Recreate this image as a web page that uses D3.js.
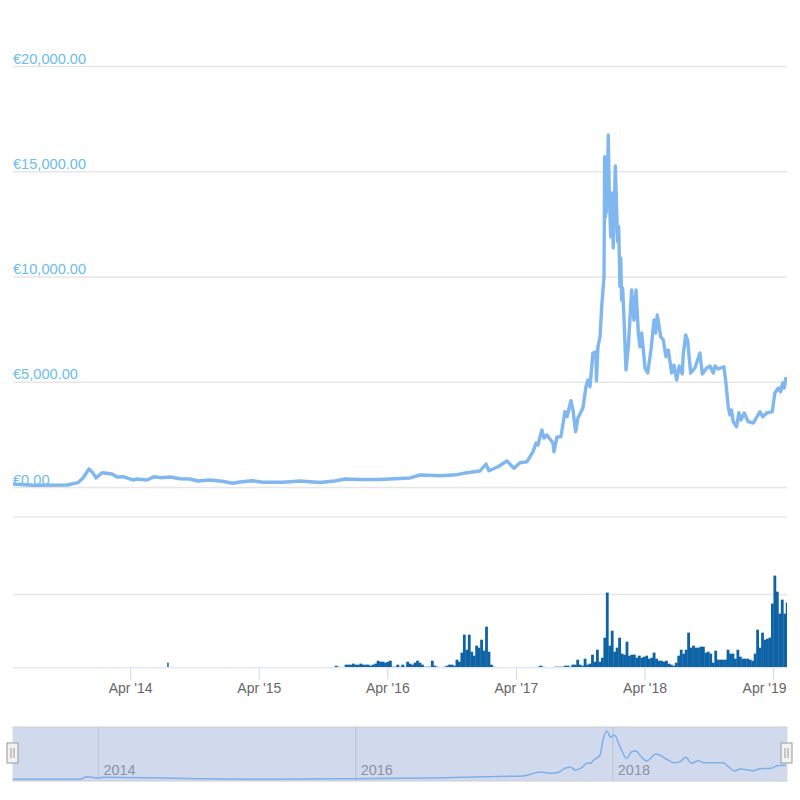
<!DOCTYPE html>
<meta charset="utf-8">
<style>
body { margin: 0; background: #fff; font-family: "Liberation Sans", Arial, sans-serif; }
.grid line { stroke: #e6e6e6; stroke-width: 1.4px; }
.grid .domain, .timeaxis .domain, .navaxis .domain { display: none; }
.price text { fill: #6cbcec; font-size: 14.6px; }
.timeaxis line { stroke: #ccd6eb; }
.timeaxis text { fill: #666; font-size: 14px; }
.navaxis line { stroke: #e1e6ea; stroke-width: 1.4px; }
.navaxis text { fill: #999; font-size: 14.4px; }
</style>
<body>
<script src="https://d3js.org/d3.v7.min.js"></script>
<script>
// price series, decimal year and euros
var priceYears = [2013.339,2013.495,2013.759,2013.844,2013.883,2013.93,2013.961,2013.984,2014.031,2014.109,2014.148,2014.194,2014.272,2014.303,2014.381,2014.435,2014.482,2014.56,2014.638,2014.715,2014.778,2014.871,2014.964,2015.05,2015.104,2015.198,2015.283,2015.439,2015.571,2015.726,2015.843,2015.921,2016.037,2016.193,2016.426,2016.504,2016.62,2016.659,2016.792,2016.869,2016.97,2017.017,2017.04,2017.11,2017.18,2017.235,2017.281,2017.336,2017.383,2017.406,2017.421,2017.452,2017.468,2017.491,2017.538,2017.546,2017.569,2017.6,2017.631,2017.647,2017.678,2017.694,2017.714,2017.732,2017.771,2017.795,2017.81,2017.826,2017.849,2017.872,2017.876,2017.888,2017.904,2017.917,2017.935,2017.94,2017.945,2017.948,2017.952,2017.956,2017.962,2017.968,2017.976,2017.987,2017.99,2017.995,2018.007,2018.023,2018.034,2018.041,2018.049,2018.059,2018.065,2018.072,2018.08,2018.09,2018.106,2018.124,2018.15,2018.168,2018.184,2018.202,2018.215,2018.228,2018.254,2018.275,2018.3,2018.324,2018.337,2018.349,2018.376,2018.396,2018.417,2018.435,2018.461,2018.479,2018.5,2018.52,2018.543,2018.551,2018.57,2018.585,2018.609,2018.642,2018.681,2018.699,2018.733,2018.759,2018.784,2018.798,2018.823,2018.868,2018.883,2018.901,2018.914,2018.927,2018.94,2018.966,2018.984,2019.0,2019.025,2019.056,2019.096,2019.148,2019.169,2019.2,2019.243,2019.264,2019.29,2019.309,2019.324,2019.337,2019.35];
var priceValues = [143,80,95,204,428,855,665,428,679,618,475,489,333,380,333,489,442,475,394,380,285,333,271,176,238,299,223,223,285,214,285,380,356,356,428,570,546,537,584,679,760,1093,774,964,1235,888,1154,1202,1677,2090,1995,2708,2328,2470,2090,1677,2375,2389,3577,3339,4099,3657,2627,3278,3752,4764,5082,4764,6365,6427,5049,6664,7139,8564,9989,15689,12800,15600,13015,15675,14000,16720,13965,11889,13000,13965,11352,15248,13015,11652,12364,9514,10878,8883,9453,8089,5558,6664,9358,7933,9358,7315,6664,7315,5653,5415,6508,7933,7315,8170,7139,6983,6189,6508,5415,5795,5083,5748,5368,6270,7220,6983,5415,5653,6365,5368,5653,5748,5415,5748,5605,5714,4940,3814,3420,3658,3102,2864,3529,3183,3515,3102,3040,3577,3339,3515,3577,4465,4703,4527,4940,4703,5225];

// navigator series is a coarser version of the price
var navYears = [2013.339,2013.86,2013.914,2013.992,2014.039,2014.404,2014.793,2015.314,2015.96,2016.348,2016.605,2016.994,2017.305,2017.437,2017.53,2017.592,2017.631,2017.678,2017.709,2017.764,2017.802,2017.833,2017.849,2017.904,2017.927,2017.956,2017.987,2018.015,2018.059,2018.111,2018.15,2018.184,2018.22,2018.267,2018.339,2018.423,2018.479,2018.526,2018.57,2018.617,2018.668,2018.707,2018.862,2018.901,2018.953,2018.992,2019.096,2019.148,2019.239,2019.278,2019.35];
var navValues = [70,70,943,505,741,606,269,70,269,404,505,943,1179,2525,2088,2626,3771,4108,3199,4108,5455,5455,6330,8249,13300,16330,14208,14983,11044,7138,9360,9596,7912,6229,8586,6801,5657,5993,7475,5455,6330,5657,5657,4310,2862,3535,2963,3636,3771,4646,4815];

// weekly volume from late 2015, 0 = no bar
var volumeStart = 2015.851,
    volumeStep = 7 / 365.25;
var volumeValues = [76,63,0,0,89,89,89,102,89,89,102,89,89,89,76,89,102,140,127,127,115,127,140,63,63,89,63,89,63,127,102,89,115,140,115,89,63,63,63,140,76,63,0,0,63,76,89,89,76,153,127,244,476,282,476,256,205,334,308,411,269,579,256,89,63,
  0,0,0,0,0,0,0,0,0,0,0,0,0,0,0,0,0,
  63,76,63,0,0,0,0,63,63,63,63,76,76,63,89,89,153,89,76,166,89,102,218,127,282,127,179,437,1018,334,527,256,308,437,231,218,385,205,218,218,179,205,179,192,205,166,179,244,166,140,140,127,140,102,89,76,115,205,282,231,282,502,308,334,308,308,321,321,244,256,231,115,269,153,153,153,153,282,231,231,166,282,192,166,166,166,153,140,231,540,308,502,411,424,437,876,1237,1030,747,927,747,889];
var volumeEarlyYears = [2014.548],
    volumeEarlyValues = [115];

var priceTicks = [0, 5000, 10000, 15000, 20000];
var volumeTicks = [1000, 2000];
var timeTicks = [2014.25, 2015.25, 2016.25, 2017.25, 2018.25, 2019.25];
var timeLabels = ["Apr '14", "Apr '15", "Apr '16", "Apr '17", "Apr '18", "Apr '19"];
var navTicks = [2014, 2016, 2018];

var left = 13, right = 787;

var svg = d3.select("body").append("svg")
    .attr("width", 800)
    .attr("height", 800)
    .style("display", "block");

var x = d3.scaleLinear().domain([2013.339, 2019.358]).range([left, right]);
var yPrice = d3.scaleLinear().domain([0, 20000]).range([487, 66]);
var yVolume = d3.scaleLinear().domain([50, 2000]).range([667.7, 516.4]);
var yNav = d3.scaleLinear().domain([0, 17000]).range([779.5, 729]);

svg.append("clipPath").attr("id", "plot").append("rect")
    .attr("x", left).attr("y", 0).attr("width", right - left).attr("height", 800);

// gridlines
var priceAxis = svg.append("g")
    .attr("class", "grid price")
    .attr("transform", "translate(" + left + ",0)")
    .call(d3.axisRight(yPrice).tickValues(priceTicks).tickSize(right - left)
      .tickFormat(function(d) { return "€" + d3.format(",.2f")(d); }));
priceAxis.selectAll("text").attr("x", 0).attr("dy", -3);

svg.append("g")
    .attr("class", "grid")
    .attr("transform", "translate(" + left + ",0)")
    .call(d3.axisRight(yVolume).tickValues(volumeTicks).tickSize(right - left).tickFormat(""));

// volume bars
var bars = svg.append("g").attr("clip-path", "url(#plot)");
var volumeRows = volumeValues.map(function(v, i) {
  return { year: volumeStart + i * volumeStep, value: v };
}).concat(volumeEarlyYears.map(function(year, i) {
  return { year: year, value: volumeEarlyValues[i] };
})).filter(function(d) { return d.value > 0; });

bars.selectAll("rect")
    .data(volumeRows)
  .enter().append("rect")
    .attr("x", function(d) { return x(d.year) - 1.25; })
    .attr("y", function(d) { return yVolume(d.value); })
    .attr("width", function(d) { return d.year < 2015 ? 1.5 : 2.8; })
    .attr("height", function(d) { return yVolume(50) - yVolume(d.value); })
    .attr("fill", "#0d63a5");

// time axis
var timeAxis = svg.append("g")
    .attr("class", "timeaxis")
    .attr("transform", "translate(0," + yVolume(50) + ")")
    .call(d3.axisBottom(x).tickValues(timeTicks).tickSize(12)
      .tickFormat(function(d, i) { return timeLabels[i]; }));
timeAxis.selectAll("text").attr("y", 15).attr("dy", "0.71em");
// last label is pushed back inside the plot
timeAxis.selectAll(".tick").filter(function(d) { return d === 2019.25; }).select("text")
    .attr("text-anchor", "end")
    .attr("x", right - 1 - x(2019.25));

svg.append("line")
    .attr("x1", left).attr("x2", right)
    .attr("y1", yVolume(50)).attr("y2", yVolume(50))
    .attr("stroke", "#e3e9f5")
    .attr("stroke-width", 1.5);

// price line
var line = d3.line()
    .x(function(d, i) { return x(priceYears[i]); })
    .y(function(d) { return yPrice(d); });

svg.append("path")
    .datum(priceValues)
    .attr("clip-path", "url(#plot)")
    .attr("d", line)
    .attr("fill", "none")
    .attr("stroke", "#7fb7ee")
    .attr("stroke-width", 3.4)
    .attr("stroke-linejoin", "round");

// navigator
var navAxis = svg.append("g")
    .attr("class", "navaxis")
    .attr("transform", "translate(0,727)")
    .call(d3.axisBottom(x).tickValues(navTicks).tickSize(53).tickFormat(d3.format("d")));
navAxis.selectAll("text").attr("text-anchor", "start").attr("x", 5).attr("y", 42.5).attr("dy", "0.35em");

var navLine = d3.line()
    .x(function(d, i) { return x(navYears[i]); })
    .y(function(d) { return yNav(d); })
    .curve(d3.curveMonotoneX);

svg.append("rect")
    .attr("x", left - 0.5).attr("y", 727)
    .attr("width", right - left + 1).attr("height", 54)
    .attr("fill", "rgba(102,133,194,0.3)");

svg.append("path")
    .datum(navValues)
    .attr("d", navLine)
    .attr("fill", "none")
    .attr("stroke", "#7cb0ea")
    .attr("stroke-width", 1.5);

svg.selectAll(".navedge")
    .data([727, 781])
  .enter().append("line")
    .attr("class", "navedge")
    .attr("x1", left - 0.5).attr("x2", right + 0.5)
    .attr("y1", function(d) { return d; }).attr("y2", function(d) { return d; })
    .attr("stroke", "#ccc");

var handles = svg.selectAll(".handle")
    .data([left - 0.5, right - 0.5])
  .enter().append("g")
    .attr("class", "handle")
    .attr("transform", function(d) { return "translate(" + d + ",743)"; });

handles.append("rect")
    .attr("x", -5.5).attr("y", 0).attr("width", 11).attr("height", 20)
    .attr("fill", "#f2f2f2").attr("stroke", "#999");

handles.selectAll("line")
    .data([-1.5, 1.5])
  .enter().append("line")
    .attr("x1", function(d) { return d; }).attr("x2", function(d) { return d; })
    .attr("y1", 5).attr("y2", 15)
    .attr("stroke", "#999");
</script>
</body>
